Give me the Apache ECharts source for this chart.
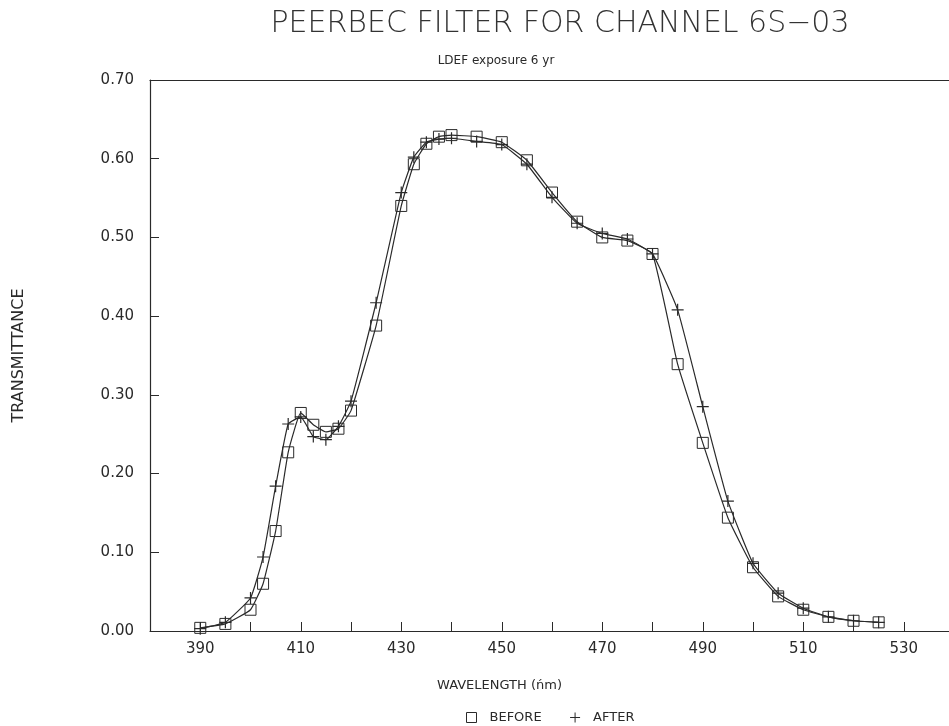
<!DOCTYPE html>
<html>
<head>
    <meta charset="utf-8">
    <title>PEERBEC FILTER</title>
    <script src="https://cdn.jsdelivr.net/npm/echarts@6/dist/echarts.min.js"></script>
</head>
<body style="margin:0;background:#fff;">
    <div id="main" style="width:949px;height:726px;"></div>
    <script type="text/javascript">
        // wavelength (nm) points measured
        var wavelength = [390, 395, 400, 402.5, 405, 407.5, 410, 412.5, 415, 417.5, 420, 425, 430, 432.5, 435, 437.5, 440, 445, 450, 455, 460, 465, 470, 475, 480, 485, 490, 495, 500, 505, 510, 515, 520, 525];
        var before = [0.004, 0.009, 0.027, 0.060, 0.127, 0.227, 0.277, 0.262, 0.253, 0.257, 0.280, 0.388, 0.540, 0.593, 0.619, 0.628, 0.630, 0.628, 0.621, 0.598, 0.557, 0.520, 0.500, 0.496, 0.479, 0.339, 0.239, 0.144, 0.081, 0.044, 0.027, 0.018, 0.013, 0.011];
        var after = [0.003, 0.011, 0.042, 0.094, 0.184, 0.263, 0.272, 0.247, 0.243, 0.260, 0.292, 0.417, 0.557, 0.602, 0.621, 0.625, 0.626, 0.622, 0.618, 0.593, 0.551, 0.518, 0.505, 0.498, 0.479, 0.408, 0.285, 0.165, 0.086, 0.048, 0.029, 0.018, 0.013, 0.011];
        var xTickLabels = [390, 410, 430, 450, 470, 490, 510, 530];

        var pair = function(xs, ys) {
            var res = [];
            for (var i = 0; i < xs.length; i++) {
                res.push([xs[i], ys[i]]);
            }
            return res;
        };

        var plusIcon = 'path://M0,5L10,5M5,0L5,10';
        var font = 'DejaVu Sans';
        var ink = '#2a2a2a';

        var myChart = echarts.init(document.getElementById('main'));

        var option = {
            backgroundColor: '#fff',
            animation: false,
            title: [{
                text: 'PEERBEC FILTER FOR CHANNEL 6S\u221203',
                left: 555,
                top: 4,
                textAlign: 'center',
                textStyle: { fontFamily: font, fontSize: 30, fontWeight: 200, color: '#333' }
            }, {
                text: 'LDEF exposure 6 yr',
                left: 491,
                top: 50,
                textAlign: 'center',
                textStyle: { fontFamily: font, fontSize: 12, fontWeight: 'normal', color: ink }
            }],
            legend: {
                left: 461,
                top: 706,
                itemWidth: 10,
                itemHeight: 10,
                itemGap: 28,
                textStyle: { fontFamily: font, fontSize: 13, color: ink, padding: [0, 0, 0, 8] },
                data: [
                    { name: 'BEFORE', icon: 'rect', itemStyle: { color: 'transparent', borderColor: ink, borderWidth: 1 } },
                    { name: 'AFTER', icon: plusIcon, itemStyle: { color: 'transparent', borderColor: ink, borderWidth: 1 } }
                ]
            },
            grid: {
                left: 150,
                right: 0,
                top: 80,
                bottom: 95
            },
            xAxis: [{
                type: 'value',
                min: 380,
                max: 539,
                interval: 10,
                name: 'WAVELENGTH (\u0144m)',
                nameLocation: 'middle',
                nameGap: 48,
                nameTextStyle: { fontFamily: font, fontSize: 13, color: ink, padding: [0, 100, 0, 0] },
                axisLine: { lineStyle: { color: ink, width: 1.2 } },
                axisTick: { inside: true, length: 9, lineStyle: { color: ink } },
                splitLine: { show: false },
                axisLabel: {
                    margin: 11,
                    fontFamily: font,
                    fontSize: 15,
                    color: ink,
                    showMaxLabel: false,
                    formatter: function(v) {
                        return xTickLabels.indexOf(v) >= 0 ? String(v) : '';
                    }
                }
            }, {
                type: 'value',
                position: 'top',
                min: 380,
                max: 539,
                axisLine: { show: true, lineStyle: { color: ink, width: 1.2 } },
                axisTick: { show: false },
                axisLabel: { show: false },
                splitLine: { show: false }
            }],
            yAxis: {
                type: 'value',
                min: 0,
                max: 0.7,
                interval: 0.1,
                name: 'TRANSMITTANCE',
                nameLocation: 'middle',
                nameRotate: 90,
                nameGap: 123,
                nameTextStyle: { fontFamily: font, fontSize: 16, color: ink },
                axisLine: { show: true, lineStyle: { color: ink, width: 1.2 } },
                axisTick: { inside: true, length: 9, lineStyle: { color: ink } },
                splitLine: { show: false },
                axisLabel: {
                    margin: 16,
                    fontFamily: font,
                    fontSize: 15,
                    color: ink,
                    formatter: function(v) { return v.toFixed(2); }
                }
            },
            series: [{
                name: 'BEFORE',
                type: 'line',
                data: pair(wavelength, before),
                smooth: 0.12,
                symbol: 'rect',
                symbolSize: 11,
                lineStyle: { color: ink, width: 1.2 },
                itemStyle: { color: 'transparent', borderColor: ink, borderWidth: 1 },
                z: 3
            }, {
                name: 'AFTER',
                type: 'line',
                data: pair(wavelength, after),
                smooth: 0.12,
                symbol: plusIcon,
                symbolSize: 12,
                lineStyle: { color: ink, width: 1.2 },
                itemStyle: { color: 'transparent', borderColor: ink, borderWidth: 1.2 },
                z: 4
            }]
        };

        myChart.setOption(option);
    </script>
</body>
</html>
